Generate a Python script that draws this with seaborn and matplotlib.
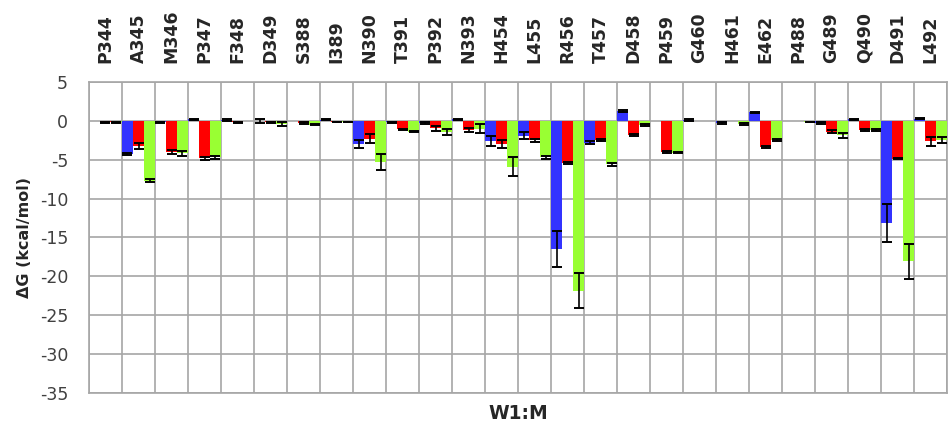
import numpy as np
import pandas as pd
import matplotlib
matplotlib.use("Agg")
import matplotlib.pyplot as plt
import seaborn as sns
from matplotlib.ticker import MultipleLocator, FixedLocator

residues = ["P344", "A345", "M346", "P347", "F348", "D349", "S388", "I389", "N390", "T391",
            "P392", "N393", "H454", "L455", "R456", "T457", "D458", "P459", "G460", "H461",
            "E462", "P488", "G489", "Q490", "D491", "L492"]

blue = [0.0, -4.3, -0.2, 0.2, 0.1, 0.0, 0.0, 0.15, -3.0, -0.2, -0.3, 0.2, -2.6, -1.9,
        -16.5, -2.8, 1.3, 0.0, 0.1, -0.3, 1.1, 0.0, -0.3, 0.2, -13.2, 0.3]
blue_err = [0.0, 0.1, 0.1, 0.1, 0.1, 0.3, 0.0, 0.1, 0.5, 0.1, 0.1, 0.1, 0.65, 0.4,
            2.3, 0.2, 0.1, 0.0, 0.1, 0.1, 0.1, 0.0, 0.1, 0.1, 2.45, 0.1]

red = [-0.2, -3.2, -4.0, -4.8, -0.2, -0.2, -0.3, -0.15, -2.3, -1.1, -0.95, -1.2, -3.0, -2.5,
       -5.4, -2.5, -1.8, -4.0, 0.0, 0.0, -3.4, 0.0, -1.4, -1.15, -4.85, -2.65]
red_err = [0.05, 0.4, 0.3, 0.2, 0.05, 0.1, 0.1, 0.05, 0.6, 0.1, 0.3, 0.3, 0.5, 0.2,
           0.1, 0.1, 0.1, 0.1, 0.0, 0.0, 0.1, 0.0, 0.2, 0.1, 0.1, 0.6]

green = [-0.2, -7.7, -4.2, -4.7, 0.0, -0.4, -0.5, -0.15, -5.3, -1.4, -1.4, -1.0, -5.9, -4.7,
         -21.9, -5.6, -0.55, -4.1, 0.0, -0.4, -2.5, -0.15, -1.85, -1.15, -18.1, -2.5]
green_err = [0.05, 0.2, 0.3, 0.2, 0.0, 0.3, 0.1, 0.05, 1.0, 0.1, 0.4, 0.6, 1.2, 0.2,
             2.25, 0.2, 0.1, 0.1, 0.0, 0.1, 0.1, 0.05, 0.3, 0.1, 2.3, 0.4]

series_names = ["S1", "S2", "S3"]
series_vals = [blue, red, green]
series_errs = [blue_err, red_err, green_err]
colors = ["#3333FF", "#FF0000", "#99FF33"]

df = pd.DataFrame({
    "residue": residues * 3,
    "dG": blue + red + green,
    "series": [s for s in series_names for _ in residues],
})

sns.set_style("white")
plt.rcParams["font.family"] = ["DejaVu Sans"]

fig = plt.figure(figsize=(9.53, 4.29), dpi=100)
ax = fig.add_axes([89 / 953, 1 - 392.7 / 429, (947 - 89) / 953, (392.7 - 82) / 429])

sns.barplot(data=df, x="residue", y="dG", hue="series", order=residues,
            hue_order=series_names, palette=colors, width=1.0, gap=0,
            errorbar=None, legend=False, saturation=1, linewidth=0, ax=ax, zorder=3)

for cont, vals, errs in zip(ax.containers, series_vals, series_errs):
    xs, ys, es = [], [], []
    for patch, v, e in zip(cont.patches, vals, errs):
        if v == 0 and e == 0:
            continue
        xs.append(patch.get_x() + patch.get_width() / 2)
        ys.append(v)
        es.append(e)
    ax.errorbar(xs, ys, yerr=es, fmt="none", ecolor="black", elinewidth=1.2,
                capsize=3.4, capthick=1.4, zorder=4)

grid_c = "#A6A6A6"
ax.set_ylim(-35, 5)
ax.set_xlim(-0.5, len(residues) - 0.5)
ax.yaxis.set_major_locator(MultipleLocator(5))
ax.xaxis.set_minor_locator(FixedLocator(np.arange(-0.5, len(residues), 1.0)))
ax.grid(axis="y", which="major", color=grid_c, linewidth=1.2, zorder=0)
ax.grid(axis="x", which="minor", color=grid_c, linewidth=1.2, zorder=0)
ax.grid(axis="x", which="major", visible=False)
ax.set_axisbelow(True)

for sp in ax.spines.values():
    sp.set_color(grid_c)
    sp.set_linewidth(1.2)

ax.xaxis.tick_top()
ax.set_xticks(range(len(residues)))
ax.set_xticklabels(residues, rotation=90, fontweight="bold", fontsize=12.5)
ax.tick_params(axis="x", which="both", length=0, pad=14, top=True, bottom=False)

ax.set_yticks(np.arange(-35, 6, 5))
ax.set_yticklabels([str(v) for v in range(-35, 6, 5)])
ax.tick_params(axis="y", which="major", length=6, width=1.2, color=grid_c,
               labelsize=12.5, labelcolor="#404040", pad=9)

ax.set_ylabel("ΔG (kcal/mol)", fontweight="bold", fontsize=11.5)
ax.yaxis.set_label_coords(-0.066, 0.5)
ax.xaxis.set_label_position("bottom")
ax.set_xlabel("W1:M", fontweight="bold", fontsize=13.5, labelpad=8)

fig.savefig("out.png", dpi=100)
